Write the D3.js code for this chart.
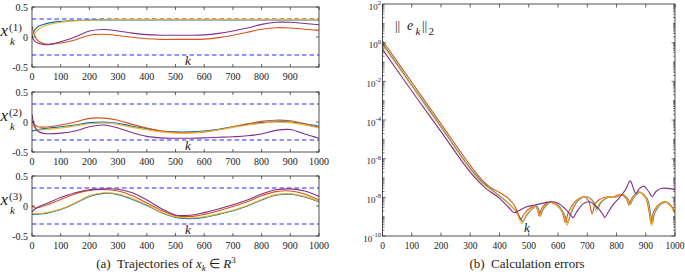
<!DOCTYPE html>
<html><head><meta charset="utf-8">
<script src="https://cdn.jsdelivr.net/npm/d3@7"></script>
<style>
body{margin:0;background:#fff}
svg{display:block}
text{font-family:"Liberation Serif","Times New Roman",Times,serif;fill:#1a1a1a}
</style>
</head><body><svg id="c" width="685" height="277" font-family="Liberation Serif, Times New Roman, serif"></svg>
<script>
// ---------- data ----------
const kA = [0,10,20,40,60,100,150,200,250,300,350,400,450,500,550,600,650,700,750,800,850,900,950,1000];
// x^(1)
const x1Blue   = [0.0,0.12,0.17,0.21,0.235,0.26,0.275,0.283,0.285,0.285,0.286,0.286,0.286,0.286,0.286,0.286,0.286,0.286,0.286,0.286,0.286,0.286,0.286,0.286];
const x1Orange = [0.18,0.02,-0.06,-0.11,-0.12,-0.1,-0.05,0.03,0.045,0.025,-0.005,-0.03,-0.04,-0.04,-0.04,-0.035,-0.01,0.03,0.08,0.13,0.155,0.15,0.13,0.11];
const x1Yellow = [0.03,0.07,0.12,0.18,0.21,0.245,0.268,0.28,0.287,0.29,0.29,0.29,0.29,0.29,0.29,0.29,0.29,0.29,0.29,0.29,0.29,0.29,0.29,0.29];
const x1Purple = [0.0,-0.07,-0.1,-0.125,-0.125,-0.08,0.0,0.1,0.125,0.1,0.065,0.04,0.03,0.03,0.03,0.035,0.06,0.1,0.15,0.21,0.245,0.245,0.225,0.205];
// x^(2)
const x2Blue   = [-0.15,-0.14,-0.13,-0.11,-0.1,-0.08,-0.05,-0.01,0.0,-0.02,-0.07,-0.11,-0.15,-0.165,-0.165,-0.15,-0.12,-0.08,-0.04,-0.01,0.005,0.0,-0.03,-0.07];
const x2Orange = [0.02,-0.05,-0.08,-0.085,-0.08,-0.05,0.0,0.06,0.065,0.03,-0.04,-0.1,-0.15,-0.175,-0.18,-0.165,-0.13,-0.08,-0.03,0.01,0.03,0.02,-0.03,-0.09];
const x2Yellow = [-0.03,-0.1,-0.13,-0.13,-0.12,-0.1,-0.065,-0.03,-0.02,-0.04,-0.09,-0.13,-0.165,-0.185,-0.185,-0.165,-0.13,-0.09,-0.05,-0.02,0.0,-0.01,-0.05,-0.1];
const x2Purple = [0.12,-0.08,-0.15,-0.19,-0.195,-0.185,-0.15,-0.08,-0.05,-0.1,-0.18,-0.24,-0.265,-0.27,-0.27,-0.265,-0.255,-0.245,-0.23,-0.2,-0.14,-0.125,-0.2,-0.27];
// x^(3)
const x3Blue   = [-0.14,-0.14,-0.135,-0.13,-0.11,-0.06,0.04,0.16,0.21,0.19,0.11,0.01,-0.11,-0.19,-0.21,-0.19,-0.14,-0.08,0.0,0.1,0.18,0.195,0.15,0.07];
const x3Orange = [0.0,-0.03,-0.03,0.0,0.03,0.11,0.2,0.26,0.275,0.25,0.17,0.05,-0.07,-0.16,-0.175,-0.14,-0.08,-0.01,0.07,0.17,0.24,0.25,0.2,0.1];
const x3Yellow = [-0.13,-0.13,-0.125,-0.12,-0.1,-0.05,0.05,0.17,0.22,0.2,0.12,0.02,-0.1,-0.18,-0.2,-0.18,-0.13,-0.07,0.01,0.11,0.19,0.205,0.16,0.08];
const x3Purple = [-0.1,-0.05,-0.02,0.02,0.06,0.14,0.22,0.27,0.285,0.28,0.22,0.1,-0.04,-0.15,-0.155,-0.11,-0.05,0.02,0.1,0.2,0.27,0.285,0.25,0.16];

// errors: k and log10(||e_k||_2)
const eKBlue   = [0,100,200,300,340,370,400,430,455,472,480,492,512,527,535,540,550,577,602,622,633,644,667,697,717,735,745,772,802,822,840,847,857,880,904,916,922,932,952,970,987,1000];
const eLogBlue = [-0.05,-2.2,-4.35,-6.5,-7.2,-7.57,-7.93,-8.3,-8.7,-9.1,-9.25,-8.95,-8.6,-8.45,-8.7,-8.95,-8.6,-8.25,-8.45,-8.9,-9.3,-8.85,-8.2,-7.97,-8.15,-8.6,-8.3,-8.0,-7.97,-7.85,-8.1,-8.35,-8.05,-7.75,-8.05,-8.8,-9.35,-8.75,-8.35,-8.27,-8.45,-8.8];
const eKOrange   = [0,100,200,300,340,370,400,430,450,465,472,485,505,522,530,535,545,570,595,615,625,635,660,690,705,717,728,760,790,815,835,842,852,876,900,912,918,928,950,967,985,1000];
const eLogOrange = [0.1,-2.05,-4.2,-6.35,-7.1,-7.5,-7.75,-8.05,-8.4,-8.9,-9.15,-8.85,-8.55,-8.45,-8.65,-8.95,-8.55,-8.25,-8.4,-8.8,-9.3,-8.8,-8.2,-7.97,-8.2,-8.85,-8.3,-8.0,-7.97,-7.85,-8.1,-8.4,-8.05,-7.72,-8.05,-8.8,-9.35,-8.7,-8.3,-8.22,-8.4,-8.8];
const eKYellow   = [0,100,200,300,340,370,400,430,455,470,477,490,510,525,533,538,548,575,600,620,631,642,665,695,715,732,742,770,800,820,838,845,855,878,902,914,920,930,950,968,985,1000];
const eLogYellow = [-0.1,-2.25,-4.4,-6.55,-7.25,-7.6,-7.95,-8.3,-8.7,-9.2,-9.35,-8.95,-8.6,-8.45,-8.7,-9.0,-8.6,-8.25,-8.45,-8.9,-9.45,-8.85,-8.2,-7.97,-8.15,-8.7,-8.3,-8.0,-7.97,-7.85,-8.1,-8.4,-8.05,-7.72,-8.05,-8.8,-9.45,-8.75,-8.35,-8.25,-8.45,-8.85];
const eKPurple   = [0,100,200,300,350,400,430,450,465,490,520,550,575,600,625,645,652,662,685,705,730,752,760,770,790,808,830,847,857,866,878,893,910,922,935,955,980,1000];
const eLogPurple = [-0.35,-2.5,-4.6,-6.7,-7.5,-8.05,-8.5,-8.8,-8.7,-8.5,-8.4,-8.3,-8.23,-8.3,-8.6,-8.95,-9.05,-8.8,-8.35,-8.23,-8.45,-8.85,-9.05,-8.8,-8.35,-8.05,-7.62,-7.15,-7.5,-7.8,-7.55,-7.42,-7.7,-7.97,-7.7,-7.53,-7.55,-7.6];

const xTicksA = [0,100,200,300,400,500,600,700,800,900,1000];
const yTicksA = [-0.5,0,0.5];
const boundsA = [0.3,-0.3];
const eTickExp = [2,0,-2,-4,-6,-8,-10];

const colors = {blue:"#0072BD", orange:"#D95319", yellow:"#EDB120", purple:"#7E2F8E"};
const dashBlue = "#2b2bff";
const axisCol = "#262626";

// ---------- drawing ----------
const svg = d3.select("#c");
svg.append("rect").attr("width",685).attr("height",277).attr("fill","#fff");

const panels = [
  {top:7, bot:67, idx:"(1)", series:[x1Blue,x1Orange,x1Yellow,x1Purple], labels:[0,100,200,300,400,500,600,700,800,900]},
  {top:92, bot:152, idx:"(2)", series:[x2Blue,x2Orange,x2Yellow,x2Purple], labels:xTicksA},
  {top:176, bot:236, idx:"(3)", series:[x3Blue,x3Orange,x3Yellow,x3Purple], labels:xTicksA}
];
const serCols = [colors.blue, colors.orange, colors.yellow, colors.purple];
const xA = d3.scaleLinear().domain([0,1000]).range([32,319]);

panels.forEach((p,pi)=>{
  const y = d3.scaleLinear().domain([-0.5,0.5]).range([p.bot,p.top]);
  const g = svg.append("g");
  const clipId = "clipA"+pi;
  svg.append("clipPath").attr("id",clipId).append("rect")
    .attr("x",xA(0)).attr("y",p.top).attr("width",xA(1000)-xA(0)).attr("height",p.bot-p.top);
  const line = d3.line().x((d,i)=>xA(kA[i])).y(d=>y(d)).curve(d3.curveCatmullRom.alpha(0.5));
  boundsA.forEach(b=>{
    g.append("line").attr("x1",xA(0)).attr("x2",xA(1000)).attr("y1",y(b)).attr("y2",y(b))
      .attr("stroke",dashBlue).attr("stroke-width",1.2).attr("stroke-dasharray","4.5,3");
  });
  p.series.forEach((s,si)=>{
    g.append("path").attr("d",line(s)).attr("fill","none").attr("stroke",serCols[si])
      .attr("stroke-width",1.1).attr("clip-path",`url(#${clipId})`);
  });
  g.append("rect").attr("x",xA(0)).attr("y",p.top).attr("width",xA(1000)-xA(0)).attr("height",p.bot-p.top)
    .attr("fill","none").attr("stroke",axisCol).attr("stroke-width",0.8);
  xTicksA.forEach(t=>{
    g.append("line").attr("x1",xA(t)).attr("x2",xA(t)).attr("y1",p.bot).attr("y2",p.bot-3).attr("stroke",axisCol).attr("stroke-width",0.7);
    g.append("line").attr("x1",xA(t)).attr("x2",xA(t)).attr("y1",p.top).attr("y2",p.top+3).attr("stroke",axisCol).attr("stroke-width",0.7);
  });
  yTicksA.forEach(t=>{
    g.append("line").attr("x1",xA(0)).attr("x2",xA(0)+3).attr("y1",y(t)).attr("y2",y(t)).attr("stroke",axisCol).attr("stroke-width",0.7);
    g.append("line").attr("x1",xA(1000)).attr("x2",xA(1000)-3).attr("y1",y(t)).attr("y2",y(t)).attr("stroke",axisCol).attr("stroke-width",0.7);
    g.append("text").attr("x",xA(0)-4).attr("y",y(t)+3.5).attr("text-anchor","end").attr("font-size",10).text(t===0?"0":String(t));
  });
  p.labels.forEach(t=>{
    g.append("text").attr("x",xA(t)).attr("y",p.bot+12.5).attr("text-anchor","middle").attr("font-size",10).text(t);
  });
  g.append("text").attr("x",188).attr("y",p.bot-2).attr("text-anchor","middle").attr("font-size",13).attr("font-style","italic").text("k");
  const z = y(0);
  g.append("text").attr("x",0.5).attr("y",z-1.5).attr("font-size",17).attr("font-style","italic").text("x");
  g.append("text").attr("x",9).attr("y",z-6).attr("font-size",11).text(p.idx);
  g.append("text").attr("x",10).attr("y",z+8).attr("font-size",11).attr("font-style","italic").text("k");
});

// ---------- right panel ----------
const xB = d3.scaleLinear().domain([0,1000]).range([382.5,675]);
const yB = d3.scaleLog().domain([1e-10,1e2]).range([236,4]);
const gB = svg.append("g");
svg.append("clipPath").attr("id","clipB").append("rect")
  .attr("x",xB(0)).attr("y",yB(1e2)).attr("width",xB(1000)-xB(0)).attr("height",yB(1e-10)-yB(1e2));
const errSeries = [
  [eKBlue,eLogBlue,colors.blue],
  [eKOrange,eLogOrange,colors.orange],
  [eKYellow,eLogYellow,colors.yellow],
  [eKPurple,eLogPurple,colors.purple]
];
errSeries.forEach(([ks,ls,c])=>{
  const pts = ks.map((k,i)=>[k,Math.pow(10,ls[i])]);
  const line = d3.line().x(d=>xB(d[0])).y(d=>yB(d[1])).curve(d3.curveCatmullRom.alpha(0.5));
  gB.append("path").attr("d",line(pts)).attr("fill","none").attr("stroke",c).attr("stroke-width",1.1).attr("clip-path","url(#clipB)");
});
gB.append("rect").attr("x",xB(0)).attr("y",yB(1e2)).attr("width",xB(1000)-xB(0)).attr("height",yB(1e-10)-yB(1e2))
  .attr("fill","none").attr("stroke",axisCol).attr("stroke-width",0.8);
xTicksA.forEach(t=>{
  gB.append("line").attr("x1",xB(t)).attr("x2",xB(t)).attr("y1",yB(1e-10)).attr("y2",yB(1e-10)-3.5).attr("stroke",axisCol).attr("stroke-width",0.7);
  gB.append("line").attr("x1",xB(t)).attr("x2",xB(t)).attr("y1",yB(1e2)).attr("y2",yB(1e2)+3.5).attr("stroke",axisCol).attr("stroke-width",0.7);
  gB.append("text").attr("x",xB(t)).attr("y",yB(1e-10)+13).attr("text-anchor","middle").attr("font-size",9.5).text(t);
});
for(let d=-10; d<2; d++){
  for(let m=1; m<10; m++){
    const v = m*Math.pow(10,d);
    const major = (m===1 && d%2===0);
    const len = major?3.5:2;
    gB.append("line").attr("x1",xB(0)).attr("x2",xB(0)+len).attr("y1",yB(v)).attr("y2",yB(v)).attr("stroke",axisCol).attr("stroke-width",0.6);
    gB.append("line").attr("x1",xB(1000)).attr("x2",xB(1000)-len).attr("y1",yB(v)).attr("y2",yB(v)).attr("stroke",axisCol).attr("stroke-width",0.6);
  }
}
eTickExp.forEach(e=>{
  const t = gB.append("text").attr("x",xB(0)-1.5).attr("y",yB(Math.pow(10,e))+5.5).attr("text-anchor","end").attr("font-size",9);
  t.append("tspan").text("10");
  t.append("tspan").attr("font-size",6.5).attr("dy",-4.5).text(e<0?"-"+(-e):String(e));
});
gB.append("text").attr("x",527).attr("y",232).attr("text-anchor","middle").attr("font-size",13).attr("font-style","italic").text("k");
gB.append("text").attr("x",395).attr("y",30).attr("font-size",13).text("||");
gB.append("text").attr("x",407).attr("y",30).attr("font-size",14).attr("font-style","italic").text("e");
gB.append("text").attr("x",415.5).attr("y",35).attr("font-size",11).attr("font-style","italic").text("k");
gB.append("text").attr("x",422).attr("y",30).attr("font-size",13).text("||");
gB.append("text").attr("x",428.5).attr("y",35).attr("font-size",11).text("2");

// ---------- captions ----------
const capA = svg.append("text").attr("x",166).attr("y",268).attr("text-anchor","middle").attr("font-size",13);
capA.append("tspan").text("(a)\u2002Trajectories of ");
capA.append("tspan").attr("font-style","italic").text("x");
capA.append("tspan").attr("font-size",9).attr("font-style","italic").attr("dy",2.5).text("k");
capA.append("tspan").attr("dy",-2.5).text(" \u2208 ");
capA.append("tspan").attr("font-style","italic").text("R");
capA.append("tspan").attr("font-size",9).attr("dy",-5).text("3");
svg.append("text").attr("x",527).attr("y",268).attr("text-anchor","middle").attr("font-size",13).text("(b)\u2002Calculation errors");
</script>
</body></html>
